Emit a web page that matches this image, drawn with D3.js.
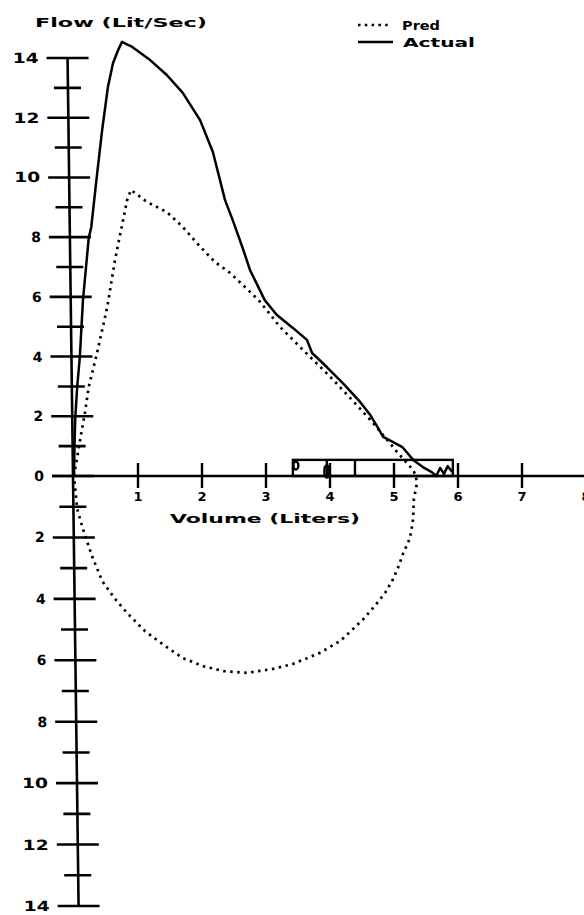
<!DOCTYPE html>
<html>
<head>
<meta charset="utf-8">
<script src="https://cdnjs.cloudflare.com/ajax/libs/d3/7.8.5/d3.min.js"></script>
<style>
body{margin:0;background:#fff;}
text{font-family:"DejaVu Sans",sans-serif;font-weight:bold;fill:#000;}
</style>
</head>
<body>
<div class="container"></div>
<script>
// flow-volume loop, volume in liters, flow in lit/sec (inspiration below 0)
var actualVol  = [0, 0.01, 0.02, 0.05, 0.09, 0.14, 0.23, 0.27, 0.35, 0.44, 0.53, 0.61, 0.69, 0.75, 0.81, 0.91,
                  1.19, 1.45, 1.70, 1.97, 2.17, 2.36, 2.48, 2.63, 2.75, 2.98, 3.17, 3.42, 3.64, 3.72, 3.95,
                  4.20, 4.47, 4.63, 4.75, 4.83, 4.98, 5.13, 5.30, 5.45, 5.59, 5.66, 5.72, 5.78, 5.84, 5.91];
var actualFlow = [0, 1.2, 1.94, 3.0, 3.95, 5.89, 7.97, 8.34, 9.91, 11.59, 13.03, 13.83, 14.27, 14.54, 14.47, 14.37,
                  13.93, 13.43, 12.83, 11.92, 10.85, 9.24, 8.57, 7.67, 6.90, 5.89, 5.39, 4.96, 4.56, 4.12, 3.65,
                  3.11, 2.48, 2.04, 1.61, 1.31, 1.14, 0.97, 0.54, 0.30, 0.13, 0, 0.27, 0.07, 0.33, 0.13];

var predVol  = [0, 0.09, 0.17, 0.23, 0.36, 0.52, 0.64, 0.83, 0.89, 1.14, 1.45, 1.70, 1.92, 2.20, 2.44, 2.72, 2.91,
                3.22, 3.50, 3.77, 4.05, 4.39, 4.66, 5.05, 5.30, 5.34,
                5.36, 5.31, 5.30, 5.25, 5.14, 5.06, 4.97, 4.86, 4.70, 4.52, 4.36, 4.16, 3.84, 3.42, 3.11, 2.70,
                2.33, 2.02, 1.70, 1.42, 1.11, 0.83, 0.64, 0.44, 0.28, 0.14, 0.05, 0];
var predFlow = [0, 1.14, 2.11, 2.98, 4.12, 5.66, 7.23, 9.24, 9.58, 9.18, 8.84, 8.34, 7.80, 7.17, 6.80, 6.23, 5.83,
                4.99, 4.39, 3.82, 3.22, 2.44, 1.81, 0.80, 0.20, 0,
                -0.23, -0.75, -1.40, -2.02, -2.54, -3.00, -3.42, -3.81, -4.23, -4.66, -4.98, -5.37, -5.76, -6.12, -6.28, -6.41,
                -6.35, -6.19, -5.93, -5.53, -5.05, -4.46, -4.00, -3.42, -2.60, -1.73, -1.07, 0];

var xTicks = [1, 2, 3, 4, 5, 6, 7, 8];
var yMajor = [14, 12, 10, 8, 6, 4, 2, 0, -2, -4, -6, -8, -10, -12, -14];
var yMinor = [13, 11, 9, 7, 5, 3, 1, -1, -3, -5, -7, -9, -11, -13];

// the boxed strip sitting on the volume axis
var boxLeft = 3.42, boxRight = 5.92, boxTop = 0.54;
var boxDividers = [3.95, 4.39];

var width = 584, height = 915;

var svg = d3.select(".container").append("svg")
    .attr("width", width)
    .attr("height", height);

var x = d3.scaleLinear().domain([0, 8]).range([74, 586]);
var y = d3.scaleLinear().domain([14, 0, -14]).range([58, 476, 906]);

// title and legend
svg.append("text")
    .attr("x", 35).attr("y", 27)
    .style("font-size", "13px")
    .attr("textLength", 172).attr("lengthAdjust", "spacingAndGlyphs")
    .text("Flow (Lit/Sec)");

var legend = svg.append("g");
legend.append("line")
    .attr("x1", 358).attr("x2", 388).attr("y1", 25).attr("y2", 25)
    .attr("stroke", "#000").attr("stroke-width", 2.6)
    .attr("stroke-dasharray", "2.5,4.3");
legend.append("text")
    .attr("x", 402).attr("y", 30)
    .style("font-size", "13px")
    .attr("textLength", 38).attr("lengthAdjust", "spacingAndGlyphs")
    .text("Pred");
legend.append("line")
    .attr("x1", 358).attr("x2", 393).attr("y1", 42).attr("y2", 42)
    .attr("stroke", "#000").attr("stroke-width", 2.4);
legend.append("text")
    .attr("x", 403).attr("y", 47)
    .style("font-size", "13px")
    .attr("textLength", 72).attr("lengthAdjust", "spacingAndGlyphs")
    .text("Actual");

// y axis, drawn a little slanted like the plotter output
var k = 0.013;
var ax = svg.append("g")
    .attr("transform", "translate(" + (73 - y(0) * k) + ",0) skewX(" + (Math.atan(k) * 180 / Math.PI) + ")");

ax.append("line")
    .attr("x1", 0).attr("x2", 0)
    .attr("y1", y(14)).attr("y2", y(-14))
    .attr("stroke", "#000").attr("stroke-width", 2.6);

ax.selectAll(".major")
    .data(yMajor)
  .enter().append("line")
    .attr("class", "major")
    .attr("x1", -21).attr("x2", 21)
    .attr("y1", function(d) { return y(d); })
    .attr("y2", function(d) { return y(d); })
    .attr("stroke", "#000").attr("stroke-width", 2.6);

ax.selectAll(".minor")
    .data(yMinor)
  .enter().append("line")
    .attr("class", "minor")
    .attr("x1", -14).attr("x2", 13)
    .attr("y1", function(d) { return y(d); })
    .attr("y2", function(d) { return y(d); })
    .attr("stroke", "#000").attr("stroke-width", 2.6);

ax.selectAll(".ylab")
    .data(yMajor)
  .enter().append("text")
    .attr("class", "ylab")
    .attr("x", -29)
    .attr("y", function(d) { return y(d) + 5; })
    .style("text-anchor", "end")
    .style("font-size", "14px")
    .attr("textLength", function(d) { return Math.abs(d) >= 10 ? 26 : null; })
    .attr("lengthAdjust", "spacingAndGlyphs")
    .text(function(d) { return Math.abs(d); });

// x axis
svg.append("line")
    .attr("x1", 52).attr("x2", width)
    .attr("y1", y(0)).attr("y2", y(0))
    .attr("stroke", "#000").attr("stroke-width", 2.6);

svg.selectAll(".xtick")
    .data(xTicks)
  .enter().append("line")
    .attr("class", "xtick")
    .attr("x1", function(d) { return x(d); })
    .attr("x2", function(d) { return x(d); })
    .attr("y1", y(0) - 13).attr("y2", y(0) + 12)
    .attr("stroke", "#000").attr("stroke-width", 2.4);

svg.selectAll(".xlab")
    .data(xTicks)
  .enter().append("text")
    .attr("class", "xlab")
    .attr("x", function(d) { return x(d); })
    .attr("y", 501)
    .style("text-anchor", "middle")
    .style("font-size", "13px")
    .text(function(d) { return d; });

svg.append("text")
    .attr("x", 170).attr("y", 523)
    .style("font-size", "13px")
    .attr("textLength", 190).attr("lengthAdjust", "spacingAndGlyphs")
    .text("Volume (Liters)");

// box on the axis
var box = svg.append("g").attr("fill", "none").attr("stroke", "#000").attr("stroke-width", 2.4);
box.append("rect")
    .attr("x", x(boxLeft)).attr("y", y(boxTop))
    .attr("width", x(boxRight) - x(boxLeft))
    .attr("height", y(0) - y(boxTop));
box.selectAll(".div")
    .data(boxDividers)
  .enter().append("line")
    .attr("x1", function(d) { return x(d); })
    .attr("x2", function(d) { return x(d); })
    .attr("y1", y(boxTop)).attr("y2", y(0));
box.append("ellipse")
    .attr("cx", x(boxLeft) + 3).attr("cy", y(0.35)).attr("rx", 2.5).attr("ry", 4);
box.append("ellipse")
    .attr("cx", x(boxDividers[0])).attr("cy", y(0.15)).attr("rx", 2.5).attr("ry", 6);

// curves
var line = d3.line()
    .x(function(d) { return x(d[0]); })
    .y(function(d) { return y(d[1]); });

svg.append("path")
    .datum(d3.zip(predVol, predFlow))
    .attr("d", line)
    .attr("fill", "none")
    .attr("stroke", "#000")
    .attr("stroke-width", 2.7)
    .attr("stroke-dasharray", "2.5,4.5");

svg.append("path")
    .datum(d3.zip(actualVol, actualFlow))
    .attr("d", line)
    .attr("fill", "none")
    .attr("stroke", "#000")
    .attr("stroke-width", 2.5)
    .attr("stroke-linejoin", "round");
</script>
</body>
</html>
